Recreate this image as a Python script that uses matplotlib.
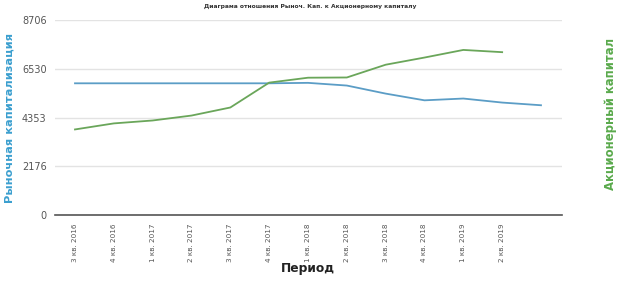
import matplotlib.pyplot as plt
import numpy as np

periods = ['3 кв. 2016', '4 кв. 2016', '1 кв. 2017', '2 кв. 2017', '3 кв. 2017',
           '4 кв. 2017', '1 кв. 2018', '2 кв. 2018', '3 кв. 2018', '4 кв. 2018',
           '1 кв. 2019', '2 кв. 2019']
market_cap = [5880, 5880, 5880, 5880, 5880, 5880, 5900, 5780, 5420, 5120, 5200, 5020, 4900]
equity = [3820, 4090, 4220, 4440, 4800, 5910, 6130, 6140, 6710, 7030, 7370, 7270]
yticks = [0, 2176, 4353, 6530, 8706]

fig = plt.figure(figsize=(6.2, 2.85), dpi=100)
ax = fig.add_axes([0.0887, 0.2456, 0.8177, 0.6842])

ax.plot(np.arange(len(market_cap)), market_cap, color='#5b9dc6', lw=1.3)
ax.plot(np.arange(len(equity)), equity, color='#6aa65a', lw=1.3)

ax.set_xlim(-0.515, 12.54)
ax.set_ylim(0, 8706)
ax.set_yticks(yticks)
ax.set_yticklabels([str(v) for v in yticks], fontsize=7, color='#555555')
ax.set_xticks(np.arange(len(periods)))
ax.set_xticklabels(periods, rotation=90, fontsize=5.2, color='#555555')
ax.tick_params(axis='both', length=0, pad=6)
ax.grid(axis='y', color='#e3e3e3', lw=1)
ax.set_axisbelow(True)
for s in ['top', 'right', 'left']:
    ax.spines[s].set_visible(False)
ax.spines['bottom'].set_color('#555555')
ax.spines['bottom'].set_linewidth(1.2)

fig.text(0.5, 0.988, 'Диаграма отношения Рыноч. Кап. к Акционерному капиталу',
         ha='center', va='top', fontsize=4.3, fontweight='bold', color='#333333')
fig.text(0.016, 0.585, 'Рыночная капитализация', rotation=90, ha='center', va='center',
         fontsize=8.2, fontweight='bold', color='#3b9fcf')
fig.text(0.985, 0.6, 'Акционерный капитал', rotation=90, ha='center', va='center',
         fontsize=8.4, fontweight='bold', color='#5aaa4c')
fig.text(0.497, 0.058, 'Период', ha='center', va='center', fontsize=8.8,
         fontweight='bold', color='#222222')

fig.savefig('out.png', dpi=100)
